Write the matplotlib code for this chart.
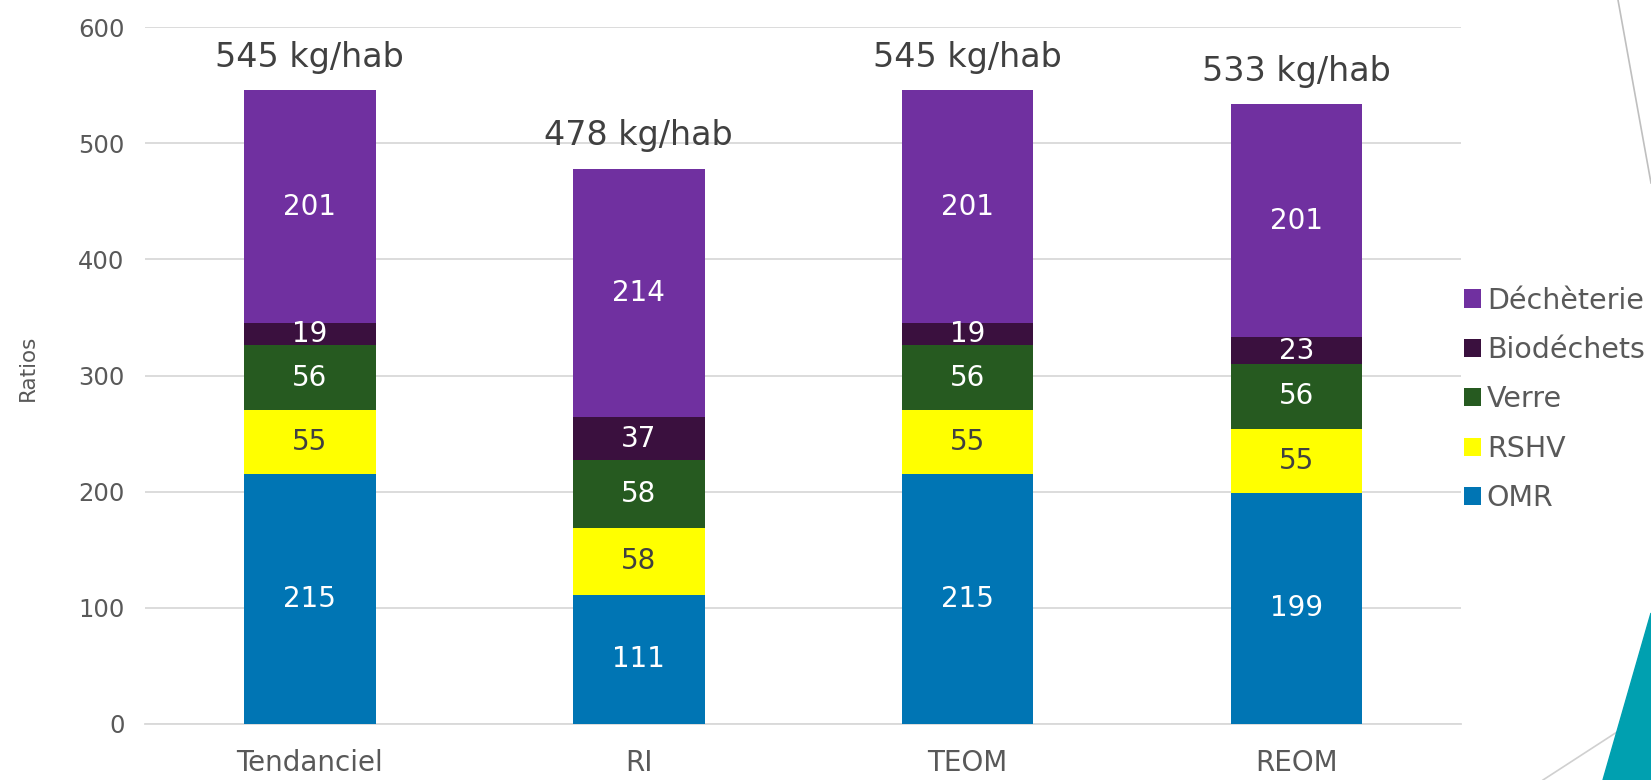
import matplotlib.pyplot as plt
import numpy as np
from matplotlib.patches import Polygon
from matplotlib.lines import Line2D

categories = ['Tendanciel', 'RI', 'TEOM', 'REOM']
series_names = ['OMR', 'RSHV', 'Verre', 'Biodéchets', 'Déchèterie']
omr = [215, 111, 215, 199]
rshv = [55, 58, 55, 55]
verre = [56, 58, 56, 56]
biodechets = [19, 37, 19, 23]
decheterie = [201, 214, 201, 201]
totals = [545, 478, 545, 533]
total_labels = ['545 kg/hab', '478 kg/hab', '545 kg/hab', '533 kg/hab']

colors = ['#0075B4', '#FFFF00', '#265A20', '#3A103E', '#7030A0']
label_colors = ['white', '#404040', 'white', 'white', 'white']

plt.rcParams['font.family'] = ['DejaVu Sans']

fig = plt.figure(figsize=(16.51, 7.8), dpi=100)
ax = fig.add_axes([0.088, 0.072, 0.797, 0.893])

x = np.arange(len(categories))
bottom = np.zeros(len(categories))
handles = []
for name, vals, col, lc in zip(series_names, [omr, rshv, verre, biodechets, decheterie],
                               colors, label_colors):
    vals = np.array(vals, dtype=float)
    b = ax.bar(x, vals, 0.4, bottom=bottom, color=col, label=name, zorder=3)
    handles.append(b)
    for xi, v, bt in zip(x, vals, bottom):
        ax.text(xi, bt + v / 2, f'{int(v)}', ha='center', va='center',
                color=lc, fontsize=20, zorder=4)
    bottom += vals

for xi, t, lab in zip(x, totals, total_labels):
    ax.annotate(lab, xy=(xi, t), xytext=(0, 12), textcoords='offset points',
                ha='center', va='bottom', fontsize=24, color='#404040')

ax.set_xlim(-0.5, 3.5)
ax.set_ylim(0, 600)
ax.set_yticks(range(0, 601, 100))
ax.yaxis.grid(True, color='#D9D9D9', linewidth=1.3, zorder=0)
ax.set_axisbelow(True)
for s in ['top', 'right', 'left']:
    ax.spines[s].set_visible(False)
ax.spines['bottom'].set_color('#D9D9D9')
ax.spines['bottom'].set_linewidth(1.3)
ax.tick_params(axis='both', length=0, colors='#595959')
ax.tick_params(axis='y', labelsize=17.5, pad=15)
ax.tick_params(axis='x', labelsize=20, pad=18)
ax.set_xticks(x)
ax.set_xticklabels(categories)
ax.set_ylabel('Ratios', fontsize=15.5, color='#595959')
ax.yaxis.set_label_coords(-0.082, 0.511)

leg = ax.legend(handles[::-1], series_names[::-1], loc='center left',
                bbox_to_anchor=(1.0, 0.466), frameon=False, fontsize=20.5,
                handlelength=0.6, handleheight=0.6, handletextpad=0.2,
                labelspacing=0.75, borderaxespad=0.0, borderpad=0.1)
for t in leg.get_texts():
    t.set_color('#595959')

# slide decoration on the right edge
W, H = 1651, 780
fig.patches.append(Polygon([(1603 / W, 0), (1.0, 1 - 613 / H), (1.0, 0)],
                           closed=True, transform=fig.transFigure,
                           color='#00A0B0', zorder=5))
fig.lines.append(Line2D([1543 / W, 1617 / W], [0, 1 - 732 / H],
                        transform=fig.transFigure, color='#D0D0D0', linewidth=1.2))
fig.lines.append(Line2D([1618 / W, 1651 / W], [1.0, 1 - 183 / H],
                        transform=fig.transFigure, color='#BFBFBF', linewidth=1.2))

fig.savefig('out.png', dpi=100)
